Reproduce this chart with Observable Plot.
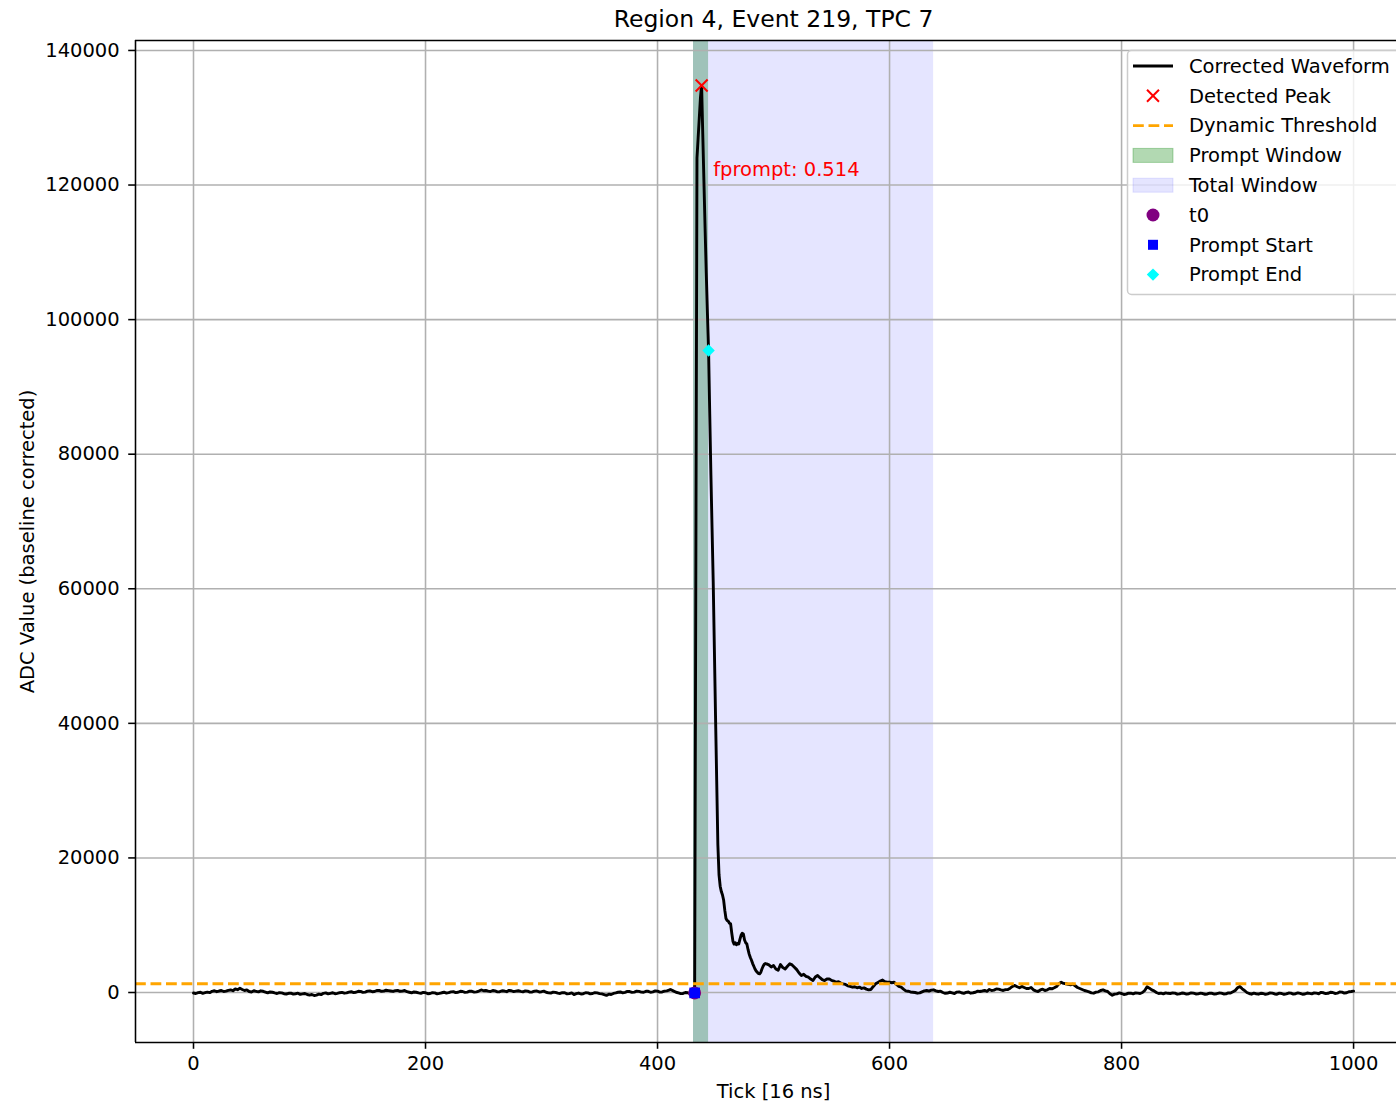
<!DOCTYPE html>
<html><head><meta charset="utf-8">
<script src="https://cdn.jsdelivr.net/npm/d3@7"></script>
<script src="https://cdn.jsdelivr.net/npm/@observablehq/plot@0.6"></script>
<style>
body{margin:0;background:#fff;}
#wrap{position:relative;width:1396px;height:1104px;overflow:hidden;}
#legend{position:absolute;left:0;top:0;pointer-events:none;}
</style></head><body><div id="wrap"></div>
<script>
const title = "Region 4, Event 219, TPC 7";
const xLabel = "Tick [16 ns]";
const yLabel = "ADC Value (baseline corrected)";
const xTicks = [0, 200, 400, 600, 800, 1000];
const yTicks = [0, 20000, 40000, 60000, 80000, 100000, 120000, 140000];
const xDomain = [-50, 1037];
const yDomain = [-7430, 141480];

// corrected waveform [tick, ADC]
const waveform = [
[0,-80],[2,-150],[4,-20],[6,40],[8,-120],[10,-30],[12,60],[14,-20],[16,180],[18,260],[20,120],[22,220],[24,300],[26,150],[28,200],[30,320],
[32,380],[34,260],[36,520],[38,420],[40,640],[42,450],[44,300],[46,380],[48,150],[50,80],[52,260],[54,180],[56,100],[58,250],[60,180],[62,60],
[64,-60],[66,80],[68,40],[70,-60],[72,-150],[74,-20],[76,-60],[78,-180],[80,-220],[82,-120],[84,-100],[86,-240],[88,-180],[90,-100],[92,-280],
[94,-200],[96,-150],[98,-300],[100,-380],[102,-300],[104,-450],[106,-380],[108,-250],[110,-320],[112,-120],[114,-60],[116,-200],[118,-120],
[120,-40],[122,-180],[124,-120],[126,-30],[128,20],[130,-100],[132,-60],[134,60],[136,120],[138,-20],[140,40],[142,180],[144,160],[146,20],
[148,60],[150,200],[152,240],[154,120],[156,150],[158,300],[160,320],[162,180],[164,200],[166,340],[168,280],[170,220],[172,160],[174,280],
[176,300],[178,180],[180,200],[182,300],[184,120],[186,40],[188,-40],[190,80],[192,40],[194,-60],[196,-120],[198,20],[200,-40],[202,-180],
[204,-150],[206,-20],[208,-60],[210,-200],[212,-140],[214,-40],[216,40],[218,-80],[220,-20],[222,100],[224,120],[226,-20],[228,40],[230,180],
[232,150],[234,20],[236,60],[238,200],[240,180],[242,60],[244,100],[246,220],[248,380],[250,260],[252,300],[254,200],[256,150],[258,300],
[260,240],[262,100],[264,120],[266,260],[268,220],[270,120],[272,320],[274,260],[276,140],[278,200],[280,260],[282,160],[284,100],[286,240],
[288,200],[290,60],[292,80],[294,200],[296,220],[298,80],[300,120],[302,200],[304,40],[306,-60],[308,-80],[310,60],[312,20],[314,-100],
[316,-140],[318,-20],[320,-40],[322,-200],[324,-160],[326,-60],[328,-300],[330,-180],[332,-80],[334,-220],[336,-180],[338,-40],[340,-60],
[342,-200],[344,-150],[346,-20],[348,-60],[350,-160],[352,-200],[354,-300],[356,-420],[358,-250],[360,-300],[362,-140],[364,-60],[366,40],
[368,80],[370,-40],[372,20],[374,160],[376,140],[378,20],[380,60],[382,200],[384,160],[386,60],[388,40],[390,180],[392,180],[394,40],[396,100],
[398,240],[400,200],[402,60],[404,80],[406,200],[408,240],[410,350],[411,450],[412,380],[414,200],[416,40],[418,-60],[420,-160],[422,-140],
[424,0],[426,-40],[428,-180],[429,-160],[430,-60],[431,-120],[432,-60],
[433,62000],[434,124000],[435,127000],[436,130000],[437,133000],[438,134800],[439,127500],[440,120500],[441,113500],[442,107000],[443,101000],
[444,95400],[445,86000],[446,77000],[447,69000],[448,61000],[449,51000],[450,41000],[451,31500],[452,22000],[453,17500],[454,15800],[455,15000],
[456,14500],[457,13700],[458,12200],[459,11000],[460,10700],[461,10600],[462,10300],[463,10200],[464,8800],[465,7600],[466,7200],[467,7400],
[468,7100],[469,7300],[470,7200],[471,7900],[472,8500],[473,8800],[474,8700],[475,7800],[476,7400],[477,7200],[478,6400],[479,5700],[480,5200],
[481,4800],[482,4300],[483,3900],[484,3500],[485,3200],[486,3000],[487,2800],[488,2780],[489,3000],[490,3500],[491,3900],[492,4200],[493,4300],
[494,4260],[496,4100],[498,3800],[500,4010],[502,3500],[504,3300],[506,4160],[508,3700],[510,3500],[512,3900],[514,4260],[516,4100],[518,3760],
[520,3400],[522,2900],[524,2530],[526,2700],[528,2400],[530,2270],[532,2000],[534,1780],[536,2300],[538,2530],[540,2200],[542,1900],[544,1780],
[546,2000],[548,2030],[550,1800],[552,1700],[554,1530],[556,1600],[558,1400],[560,1290],[562,1200],[564,1000],[566,900],[568,790],[570,850],
[572,700],[574,800],[576,600],[578,690],[580,500],[582,400],[584,450],[586,900],[588,1290],[590,1500],[592,1700],[594,1850],[596,1600],
[598,1550],[600,1530],[602,1450],[604,1530],[606,1200],[608,900],[610,790],[612,500],[614,250],[616,190],[618,80],[620,40],[622,0],[624,-100],
[626,-50],[628,100],[630,250],[632,300],[634,200],[636,350],[638,400],
[640,250],[642,150],[644,200],[646,0],[648,-120],[650,-80],[652,40],[654,-50],[656,-150],[658,60],[660,100],[662,-40],[664,-120],[666,20],
[668,80],[670,-100],[672,-40],[674,40],[676,200],[678,150],[680,220],[682,300],[684,180],[686,450],[688,300],[690,350],[692,520],[694,500],
[696,380],[698,300],[700,420],[702,450],[704,650],[706,900],[708,1050],[710,850],[712,700],[714,900],[716,750],[718,600],[720,600],[722,750],
[724,400],[726,250],[728,150],[730,380],[732,500],[734,300],[736,400],[738,600],[740,550],[742,700],[744,900],[746,1300],[748,1530],[750,1350],
[752,1300],[754,1200],[756,1150],[758,1250],[760,1000],[762,750],[764,600],[766,450],[768,300],[770,200],[772,100],[774,-50],[776,-100],
[778,50],[780,100],[782,300],[784,400],[786,250],[788,150],[790,-200],[792,-400],[794,-250],[796,-200],[798,-60],[800,-150],[802,-300],
[804,-250],[806,-100],[808,-100],[810,-200],[812,-50],[814,-100],[816,-150],[818,0],[820,300],[822,850],[824,650],[826,400],[828,250],[830,0],
[832,-150],[834,-100],[836,-200],[838,-50],[840,-120],[842,-150],[844,-60],[846,-100],[848,-250],[850,-200],[852,-80],[854,-120],[856,-240],
[858,-180],[860,-60],[862,-100],[864,-220],[866,-200],[868,-100],[870,-150],[872,-260],[874,-220],[876,-100],[878,-120],[880,-240],[882,-180],
[884,-80],[886,-100],[888,-220],[890,-200],[892,-60],[894,-80],[896,100],[898,300],[900,700],[902,900],[904,550],[906,300],[908,0],[910,-150],
[912,-250],[914,-100],[916,-180],[918,-250],[920,-120],[922,-150],[924,-280],[926,-200],[928,-60],[930,-100],[932,-220],[934,-250],[936,-100],
[938,-150],[940,-280],[942,-200],[944,-80],[946,-100],[948,-240],[950,-180],[952,-60],[954,-120],[956,-260],[958,-220],[960,-80],[962,-140],
[964,-200],[966,-60],[968,-100],[970,-180],[972,20],[974,-40],[976,-160],[978,-120],[980,40],[982,0],[984,-140],[986,-100],[988,80],[990,60],
[992,-80],[994,-40],[996,120],[998,150],[1000,200]
];

const peakTick = 438;
const threshold = 1300;
const promptWindow = [431, 444];
const totalWindow = [431, 638];
const t0Tick = 432;
const promptStartTick = 432;
const promptEndTick = 444;
const fprompt = 0.514;
const legendLabels = ["Corrected Waveform", "Detected Peak", "Dynamic Threshold", "Prompt Window", "Total Window", "t0", "Prompt Start", "Prompt End"];

const valueAt = t => waveform.find(d => d[0] === t)[1];
const peakVal = valueAt(peakTick);
const font = "DejaVu Sans, Verdana, sans-serif";
const fs = 19.5;

const plot = Plot.plot({
  width: 1396, height: 1104,
  marginLeft: 135, marginRight: 0, marginTop: 40, marginBottom: 62,
  style: {fontFamily: font, fontSize: fs + "px", background: "white", color: "black"},
  x: {domain: xDomain, axis: null},
  y: {domain: yDomain, axis: null},
  marks: [
    Plot.rect([promptWindow], {x1: d => d[0], x2: d => d[1], fill: "green", fillOpacity: 0.3}),
    Plot.rect([totalWindow], {x1: d => d[0], x2: d => d[1], fill: "blue", fillOpacity: 0.1}),
    Plot.ruleX(xTicks, {stroke: "#b0b0b0", strokeWidth: 1.56}),
    Plot.ruleY(yTicks, {stroke: "#b0b0b0", strokeWidth: 1.56}),
    Plot.line(waveform, {x: d => d[0], y: d => d[1], stroke: "black", strokeWidth: 2.9, strokeLinejoin: "round"}),
    Plot.ruleY([threshold], {stroke: "orange", strokeWidth: 2.9, strokeDasharray: "10.8,4.7"}),
    Plot.dot([[peakTick, peakVal]], {x: d => d[0], y: d => d[1], symbol: "times", r: 5.5, stroke: "red", strokeWidth: 2}),
    Plot.dot([[t0Tick, valueAt(t0Tick)]], {x: d => d[0], y: d => d[1], symbol: "circle", r: 6.5, fill: "purple", stroke: null}),
    Plot.dot([[promptStartTick, valueAt(promptStartTick)]], {x: d => d[0], y: d => d[1], symbol: "square", r: 6, fill: "blue", stroke: null}),
    Plot.dot([[promptEndTick, valueAt(promptEndTick)]], {x: d => d[0], y: d => d[1], symbol: "diamond2", r: 5.6, fill: "cyan", stroke: null}),
    Plot.text([[peakTick + 10, peakVal * 0.9]], {x: d => d[0], y: d => d[1], text: () => `fprompt: ${fprompt}`, fill: "red", fontSize: fs, textAnchor: "start", lineAnchor: "bottom"}),
    Plot.axisX({ticks: xTicks, tickSize: 6.8, tickPadding: 6.5, fontSize: fs, strokeWidth: 1.56, label: null, tickFormat: d => String(d)}),
    Plot.axisY({ticks: yTicks, tickSize: 6.8, tickPadding: 9, fontSize: fs, strokeWidth: 1.56, label: null, tickFormat: d => String(d)}),
    Plot.ruleX([xDomain[0]], {stroke: "black", strokeWidth: 1.56}),
    Plot.ruleY([yDomain[0], yDomain[1]], {stroke: "black", strokeWidth: 1.56}),
    Plot.text([title], {x: () => (xDomain[0] + 1050) / 2, frameAnchor: "top", dy: -21, fontSize: 23.5, lineAnchor: "middle", textAnchor: "middle", fill: "black"}),
    Plot.text([xLabel], {x: () => (xDomain[0] + 1050) / 2, frameAnchor: "bottom", dy: 49, fontSize: fs, lineAnchor: "middle", textAnchor: "middle", fill: "black"}),
    Plot.text([yLabel], {frameAnchor: "left", dx: -108, rotate: -90, fontSize: fs, lineAnchor: "middle", textAnchor: "middle", fill: "black"})
  ]
});
document.getElementById("wrap").appendChild(plot);

// legend overlay
const svg = d3.select("#wrap").append("svg").attr("id", "legend").attr("width", 1396).attr("height", 1104)
  .style("font-family", font).style("font-size", fs + "px");
svg.append("rect").attr("x", 1127.5).attr("y", 50.5).attr("width", 300).attr("height", 244).attr("rx", 4)
  .attr("fill", "white").attr("fill-opacity", 0.8).attr("stroke", "#cccccc").attr("stroke-width", 1.5);
const ys = legendLabels.map((_, i) => 66 + i * 29.8);
const hx = 1153;
svg.append("line").attr("x1", 1133).attr("x2", 1173).attr("y1", ys[0]).attr("y2", ys[0]).attr("stroke", "black").attr("stroke-width", 2.9);
svg.append("path").attr("d", d3.symbol(d3.symbolTimes, Math.PI * 5.5 * 5.5)()).attr("transform", `translate(${hx},${ys[1]})`).attr("stroke", "red").attr("stroke-width", 2).attr("fill", "none");
svg.append("line").attr("x1", 1133).attr("x2", 1173).attr("y1", ys[2]).attr("y2", ys[2]).attr("stroke", "orange").attr("stroke-width", 2.9).attr("stroke-dasharray", "10.8,4.7");
svg.append("rect").attr("x", 1133).attr("y", ys[3] - 7).attr("width", 40).attr("height", 14).attr("fill", "green").attr("fill-opacity", 0.3).attr("stroke", "green").attr("stroke-opacity", 0.3);
svg.append("rect").attr("x", 1133).attr("y", ys[4] - 7).attr("width", 40).attr("height", 14).attr("fill", "blue").attr("fill-opacity", 0.1).attr("stroke", "blue").attr("stroke-opacity", 0.1);
svg.append("circle").attr("cx", hx).attr("cy", ys[5]).attr("r", 6.5).attr("fill", "purple");
svg.append("rect").attr("x", hx - 5).attr("y", ys[6] - 5).attr("width", 10).attr("height", 10).attr("fill", "blue");
svg.append("path").attr("d", d3.symbol(d3.symbolDiamond2, Math.PI * 5.6 * 5.6)()).attr("transform", `translate(${hx},${ys[7]})`).attr("fill", "cyan");
svg.selectAll("text.lab").data(legendLabels).join("text").attr("class", "lab")
  .attr("x", 1189).attr("y", (d, i) => ys[i]).attr("dy", "0.35em").attr("fill", "black").text(d => d);
</script></body></html>
